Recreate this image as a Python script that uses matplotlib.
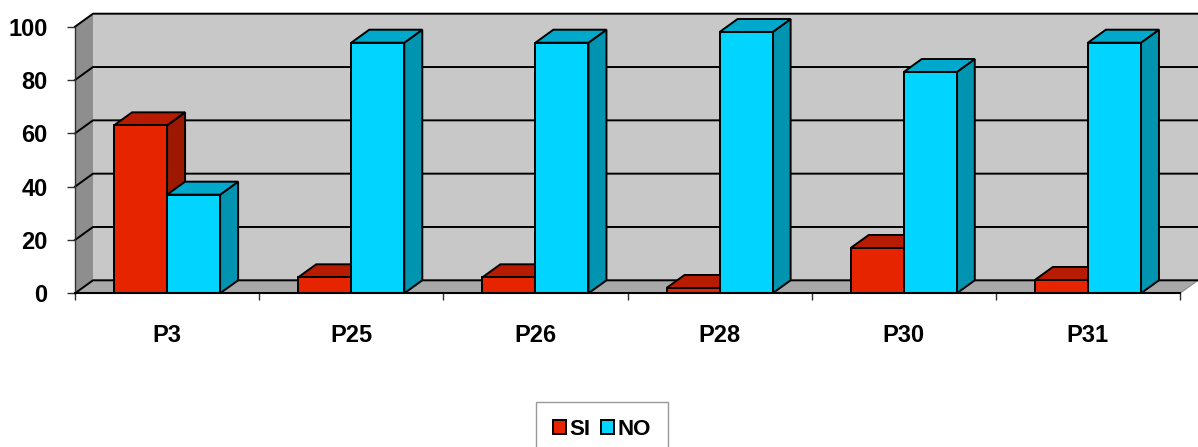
import numpy as np
import matplotlib
matplotlib.use("Agg")
import matplotlib.pyplot as plt
from matplotlib.patches import Polygon, Patch
from matplotlib.lines import Line2D

plt.rcParams['font.family'] = ['Liberation Sans', 'DejaVu Sans']

# Data
categories = ["P3", "P25", "P26", "P28", "P30", "P31"]
si_values = [63, 6, 6, 2, 17, 5]
no_values = [37, 94, 94, 98, 83, 94]
series_labels = ["SI", "NO"]
y_ticks = [0, 20, 40, 60, 80, 100]

# Styling
RED = dict(front="#E62400", top="#B81C00", side="#9C1800")
CYAN = dict(front="#00D4FF", top="#00A9CC", side="#0094B0")
WALL_BACK = "#C8C8C8"
WALL_LEFT = "#8E8E8E"
FLOOR = "#A8A8A8"
DEPTH_PX = (18.0, 13.0)   # 3-D depth offset in pixels
BAR_W = 0.288
EDGE_LW = 1.4
GRID_LW = 1.4
FS = 17

W, H, DPI = 1198, 447, 100
fig = plt.figure(figsize=(W / DPI, H / DPI), dpi=DPI)
ax = fig.add_axes([75 / W, (H - 293.3) / H, 1105 / W, 266.6 / H])
ax.set_xlim(-0.5, len(categories) - 0.5)
ax.set_ylim(0, 100)
ax.patch.set_visible(False)
x0, x1 = ax.get_xlim()


def back(x, y):
    """Point pushed to the back plane of the 3-D box."""
    px = ax.transData.transform((x, y)) + np.array(DEPTH_PX)
    return tuple(ax.transData.inverted().transform(px))


def poly(pts, fc, ec="black", lw=EDGE_LW, z=1):
    ax.add_patch(Polygon(pts, closed=True, facecolor=fc, edgecolor=ec,
                         linewidth=lw, zorder=z, clip_on=False,
                         joinstyle="miter"))


# Walls and floor
poly([back(x0, 0), back(x1, 0), back(x1, 100), back(x0, 100)],
     WALL_BACK, ec="none", z=0.5)
poly([(x0, 0), (x0, 100), back(x0, 100), back(x0, 0)],
     WALL_LEFT, ec="none", z=0.6)
poly([(x0, 0), (x1, 0), back(x1, 0), back(x0, 0)],
     FLOOR, ec="#8A8A8A", lw=0.8, z=0.7)

# Gridlines: diagonal on the side wall, then across the back wall
for v in y_ticks:
    pts = [(x0, v), back(x0, v), back(x1, v)]
    xs, ys = zip(*pts)
    ax.add_line(Line2D(xs, ys, color="black", linewidth=GRID_LW,
                       zorder=0.9, clip_on=False))


def bar3d(xl, v, colors, z):
    xr = xl + BAR_W
    # side face
    poly([(xr, 0), (xr, v), back(xr, v), back(xr, 0)], colors["side"], z=z)
    # top face
    poly([(xl, v), (xr, v), back(xr, v), back(xl, v)], colors["top"], z=z)


centers = np.arange(len(categories))
for i, c in enumerate(centers):
    z = 3 + i
    bar3d(c - BAR_W, si_values[i], RED, z)
    ax.bar(c - BAR_W, si_values[i], width=BAR_W, align="edge",
           color=RED["front"], edgecolor="black", linewidth=EDGE_LW,
           zorder=z + 0.1, clip_on=False)
    bar3d(c, no_values[i], CYAN, z + 0.2)
    ax.bar(c, no_values[i], width=BAR_W, align="edge",
           color=CYAN["front"], edgecolor="black", linewidth=EDGE_LW,
           zorder=z + 0.3, clip_on=False)

# Axes
for s in ["top", "right"]:
    ax.spines[s].set_visible(False)
ax.spines["left"].set_color("#303030")
ax.spines["left"].set_linewidth(1.0)
ax.spines["left"].set_zorder(2)
ax.spines["bottom"].set_color("black")
ax.spines["bottom"].set_linewidth(1.5)
ax.spines["bottom"].set_zorder(20)

ax.set_yticks(y_ticks)
ax.set_yticklabels([str(t) for t in y_ticks], fontsize=FS, fontweight="bold")
ax.tick_params(axis="y", length=5.8, width=1.0, color="#303030", pad=14)

ax.set_xticks(centers)
ax.set_xticklabels(categories, fontsize=FS, fontweight="bold")
ax.set_xticks(np.arange(x0, x1 + 0.01, 1.0), minor=True)
ax.tick_params(axis="x", which="major", length=0, pad=22)
ax.tick_params(axis="x", which="minor", length=5, width=1.0, color="#303030")

handles = [Patch(facecolor=RED["front"], edgecolor="black", linewidth=1.4),
           Patch(facecolor=CYAN["front"], edgecolor="black", linewidth=1.4)]
leg = fig.legend(handles, series_labels, loc="upper center",
                 bbox_to_anchor=(602 / W, 1 - 402 / H), ncol=2,
                 frameon=True, fancybox=False, edgecolor="#808080",
                 prop=dict(weight="bold", size=16), handlelength=0.6,
                 handleheight=0.6, handletextpad=0.15, columnspacing=0.45,
                 borderpad=0.75, borderaxespad=0)
leg.get_frame().set_linewidth(1.0)

fig.savefig("out.png", dpi=DPI)
